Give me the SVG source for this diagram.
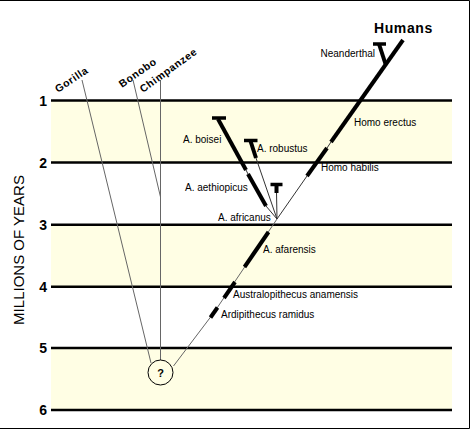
<svg xmlns="http://www.w3.org/2000/svg" width="471" height="430" viewBox="0 0 471 430">
<style>
text{font-family:"Liberation Sans",Arial,sans-serif;fill:#000}
.lbl{font-size:10px}
.num{font-size:14px;font-weight:bold;text-anchor:end}
.ape{font-size:10.5px;font-weight:bold;letter-spacing:0.6px}
.band{fill:#FFFEE4}
.rule{stroke:#000;stroke-width:2.5}
.thin{stroke:#333;stroke-width:1;fill:none}
.gray{stroke:#666;stroke-width:1;fill:none}
.thick{stroke:#000;stroke-width:4;fill:none}
.bar{stroke:#000;stroke-width:3.5;fill:none}
</style>
<rect width="471" height="430" fill="#fff"/>
<path d="M0,0.5 H469.5 V428.5 H0" fill="none" stroke="#000" stroke-width="1"/>
<g id="timescale">
<rect class="band" x="51" y="100.5" width="401" height="62"/>
<rect class="band" x="51" y="224.8" width="401" height="62"/>
<rect class="band" x="51" y="348" width="401" height="62"/>
<line class="rule" x1="51" y1="100.5" x2="452" y2="100.5"/>
<line class="rule" x1="51" y1="162.6" x2="452" y2="162.6"/>
<line class="rule" x1="51" y1="224.8" x2="452" y2="224.8"/>
<line class="rule" x1="51" y1="286.7" x2="452" y2="286.7"/>
<line class="rule" x1="51" y1="348" x2="452" y2="348"/>
<line class="rule" x1="51" y1="410" x2="452" y2="410"/>
<text class="num" x="47" y="105.5">1</text>
<text class="num" x="47" y="167.5">2</text>
<text class="num" x="47" y="229.5">3</text>
<text class="num" x="47" y="291.5">4</text>
<text class="num" x="47" y="353">5</text>
<text class="num" x="47" y="415">6</text>
<text x="23.5" y="250" font-size="15" text-anchor="middle" transform="rotate(-90 23.5 250)">MILLIONS OF YEARS</text>
</g>
<g id="connectors">
<line class="gray" x1="82" y1="80" x2="151" y2="363"/>
<line class="gray" x1="133" y1="80" x2="160.5" y2="197"/>
<line class="gray" x1="160.5" y1="80" x2="160.5" y2="360"/>
<polyline class="gray" points="173.5,366 214,312.5 277,219"/>
<line class="thin" x1="277" y1="219" x2="307" y2="176"/>
<line class="thin" x1="327" y1="148" x2="331" y2="142"/>
<line class="thin" x1="277" y1="219" x2="266" y2="206"/>
<line class="thin" x1="248" y1="174" x2="246" y2="170"/>
<line class="thin" x1="277" y1="219" x2="256" y2="158"/>
<line class="thin" x1="277" y1="219" x2="276.5" y2="192"/>
</g>
<g id="ancestor">
<circle cx="160.5" cy="372.5" r="12.5" fill="none" stroke="#000" stroke-width="1"/>
<text x="160.5" y="377" font-size="11" font-weight="bold" text-anchor="middle">?</text>
</g>
<g id="gorilla"><text class="ape" x="58" y="93" transform="rotate(-34 58 93)">Gorilla</text></g>
<g id="bonobo"><text class="ape" x="122" y="88" transform="rotate(-35 122 88)">Bonobo</text></g>
<g id="chimpanzee"><text class="ape" x="143" y="93" transform="rotate(-36 143 93)">Chimpanzee</text></g>
<g id="ardipithecus">
<line class="thick" x1="210.5" y1="317.5" x2="217.5" y2="307.5"/>
<text class="lbl" x="221" y="317.5">Ardipithecus ramidus</text>
</g>
<g id="anamensis">
<line class="thick" x1="224" y1="298" x2="235" y2="282"/>
<text class="lbl" x="233" y="297.5">Australopithecus anamensis</text>
</g>
<g id="afarensis">
<line class="thick" x1="244.5" y1="267" x2="268.5" y2="232"/>
<text class="lbl" x="263" y="252.5">A. afarensis</text>
</g>
<g id="africanus">
<text class="lbl" x="218" y="221">A. africanus</text>
</g>
<g id="aethiopicus">
<line class="thick" x1="248" y1="174" x2="266" y2="206"/>
<text class="lbl" x="185" y="191">A. aethiopicus</text>
</g>
<g id="boisei">
<line class="thick" x1="218" y1="119" x2="246" y2="170"/>
<line class="bar" x1="212" y1="118" x2="226" y2="118"/>
<text class="lbl" x="183" y="143">A. boisei</text>
</g>
<g id="robustus">
<line class="thick" x1="250.5" y1="141" x2="256" y2="158"/>
<line class="bar" x1="244" y1="140.5" x2="257.5" y2="140.5"/>
<text class="lbl" x="257" y="151.5">A. robustus</text>
</g>
<g id="unnamed-robust">
<line class="thick" x1="276.5" y1="184" x2="276.5" y2="193"/>
<line class="bar" x1="270.5" y1="184.5" x2="282.5" y2="184.5"/>
</g>
<g id="homo-habilis">
<line class="thick" x1="307" y1="176" x2="327" y2="148"/>
<text class="lbl" x="321" y="171">Homo habilis</text>
</g>
<g id="homo-erectus">
<line class="thick" x1="331" y1="142" x2="403" y2="40"/>
<text class="lbl" x="354" y="126">Homo erectus</text>
</g>
<g id="neanderthal">
<line class="thick" x1="385.5" y1="64" x2="379" y2="44"/>
<line class="bar" x1="373" y1="44" x2="386" y2="44"/>
<text class="lbl" x="375" y="57" text-anchor="end">Neanderthal</text>
</g>
<g id="humans">
<text x="374" y="33" font-size="14" font-weight="bold" letter-spacing="0.6">Humans</text>
</g>
</svg>
